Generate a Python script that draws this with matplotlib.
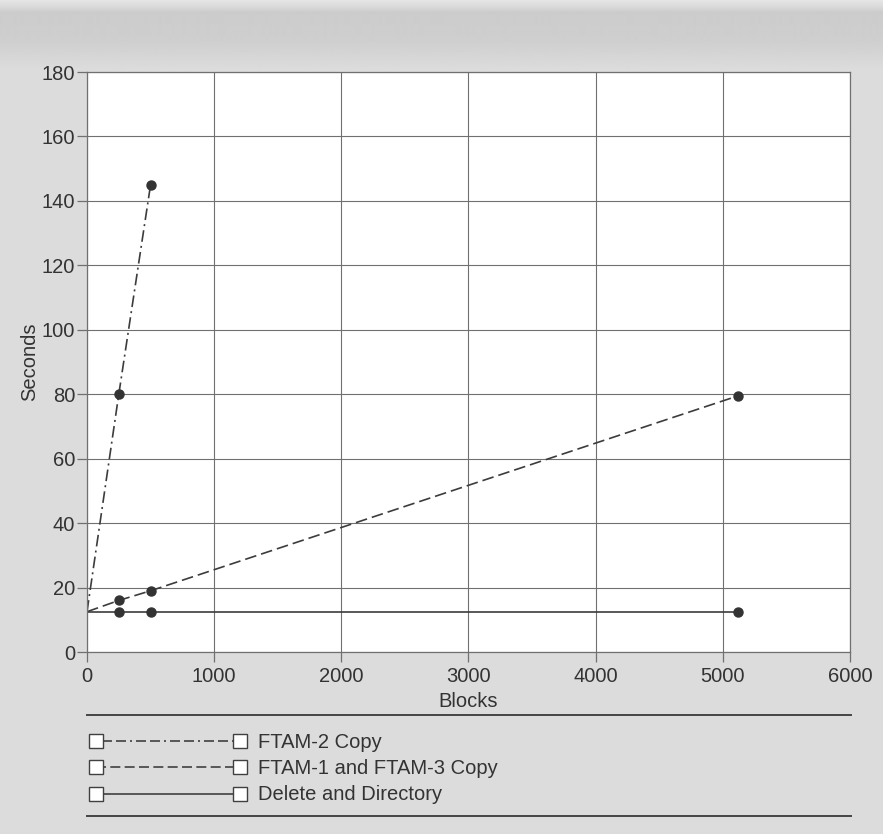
import matplotlib
matplotlib.use("Agg")
import numpy as np
import matplotlib.pyplot as plt

# Transfer timing measurements (seconds vs. file size in blocks)
blocks_ftam2 = [0, 250, 500]
secs_ftam2 = [12.5, 80, 145]

blocks_ftam13 = [0, 250, 500, 5120]
secs_ftam13 = [12.5, 16, 19, 79.5]

blocks_delete = [0, 250, 500, 5120]
secs_delete = [12.5, 12.5, 12.5, 12.5]

series_labels = ["FTAM-2 Copy", "FTAM-1 and FTAM-3 Copy", "Delete and Directory"]
x_ticks = [0, 1000, 2000, 3000, 4000, 5000, 6000]
y_ticks = [0, 20, 40, 60, 80, 100, 120, 140, 160, 180]

plt.rcParams['font.family'] = ['Liberation Sans', 'DejaVu Sans']

W, H = 883, 834
fig = plt.figure(figsize=(W / 100, H / 100), dpi=100)
bg = "#dcdcdc"
fig.patch.set_facecolor(bg)

# Slightly darker shaded band along the top edge of the page
band = fig.add_axes([0, 1 - 70 / H, 1, 70 / H], zorder=0)
yy = np.linspace(0, 70, 140)
shade = np.interp(yy, [0, 6, 12, 40, 70], [0.90, 0.86, 0.80, 0.81, 0.863])
band.imshow(shade[:, None], cmap="gray", vmin=0, vmax=1, aspect="auto",
            extent=[0, 1, 70, 0])
band.axis("off")

ink = "#333333"
grid_c = "#707070"

ax = fig.add_axes([87 / W, 1 - 652 / H, (850 - 87) / W, (652 - 72) / H], zorder=2)
ax.set_facecolor("white")
ax.set_xlim(0, 6000)
ax.set_ylim(0, 180)
ax.set_xticks(x_ticks)
ax.set_yticks(y_ticks)
ax.grid(True, color=grid_c, linewidth=0.8)
ax.set_axisbelow(True)
for s in ax.spines.values():
    s.set_color(grid_c)
    s.set_linewidth(0.9)
ax.tick_params(direction="out", length=7, width=0.9, color=grid_c,
               labelsize=14.5, labelcolor=ink)
ax.tick_params(axis="x", pad=4)
ax.tick_params(axis="y", pad=1.5)
ax.set_xlabel("Blocks", fontsize=14.5, color=ink, labelpad=4)
ax.set_ylabel("Seconds", fontsize=14.5, color=ink, labelpad=2)

line_kw = dict(color="#3c3c3c", linewidth=1.2, marker="o", markersize=6.5,
               markerfacecolor="#333333", markeredgecolor="#333333")
ax.plot(blocks_ftam2, secs_ftam2, linestyle=(0, (7, 2.5, 1.2, 2.5)),
        markevery=list(range(1, len(blocks_ftam2))), **line_kw)
ax.plot(blocks_ftam13, secs_ftam13, linestyle=(0, (7, 3)),
        markevery=list(range(1, len(blocks_ftam13))), **line_kw)
ax.plot(blocks_delete, secs_delete, linestyle="-",
        markevery=list(range(1, len(blocks_delete))), **line_kw)

# Key below the chart, framed by two rules
lg = fig.add_axes([0, 0, 1, 1], facecolor="none", zorder=3)
lg.set_xlim(0, W)
lg.set_ylim(H, 0)
lg.axis("off")
for yr in (715, 816):
    lg.plot([87, 851], [yr, yr], color="#444444", linewidth=1.4)

styles = [(0, (1.2, 2.4, 6, 2.4, 6, 2.4)), (0, (6, 2.6)), "-"]
rows = [741, 767, 794]
for y, st, lab in zip(rows, styles, series_labels):
    lg.plot([96, 240], [y, y], color="#404040", linewidth=1.2, linestyle=st)
    lg.plot([96, 240], [y, y], linestyle="none", marker="s", markersize=10.5,
            markerfacecolor="white", markeredgecolor="#404040", markeredgewidth=1)
    lg.text(258, y + 1, lab, fontsize=14.5, color=ink, va="center", ha="left")

fig.savefig("out.png", dpi=100, facecolor=fig.get_facecolor())
